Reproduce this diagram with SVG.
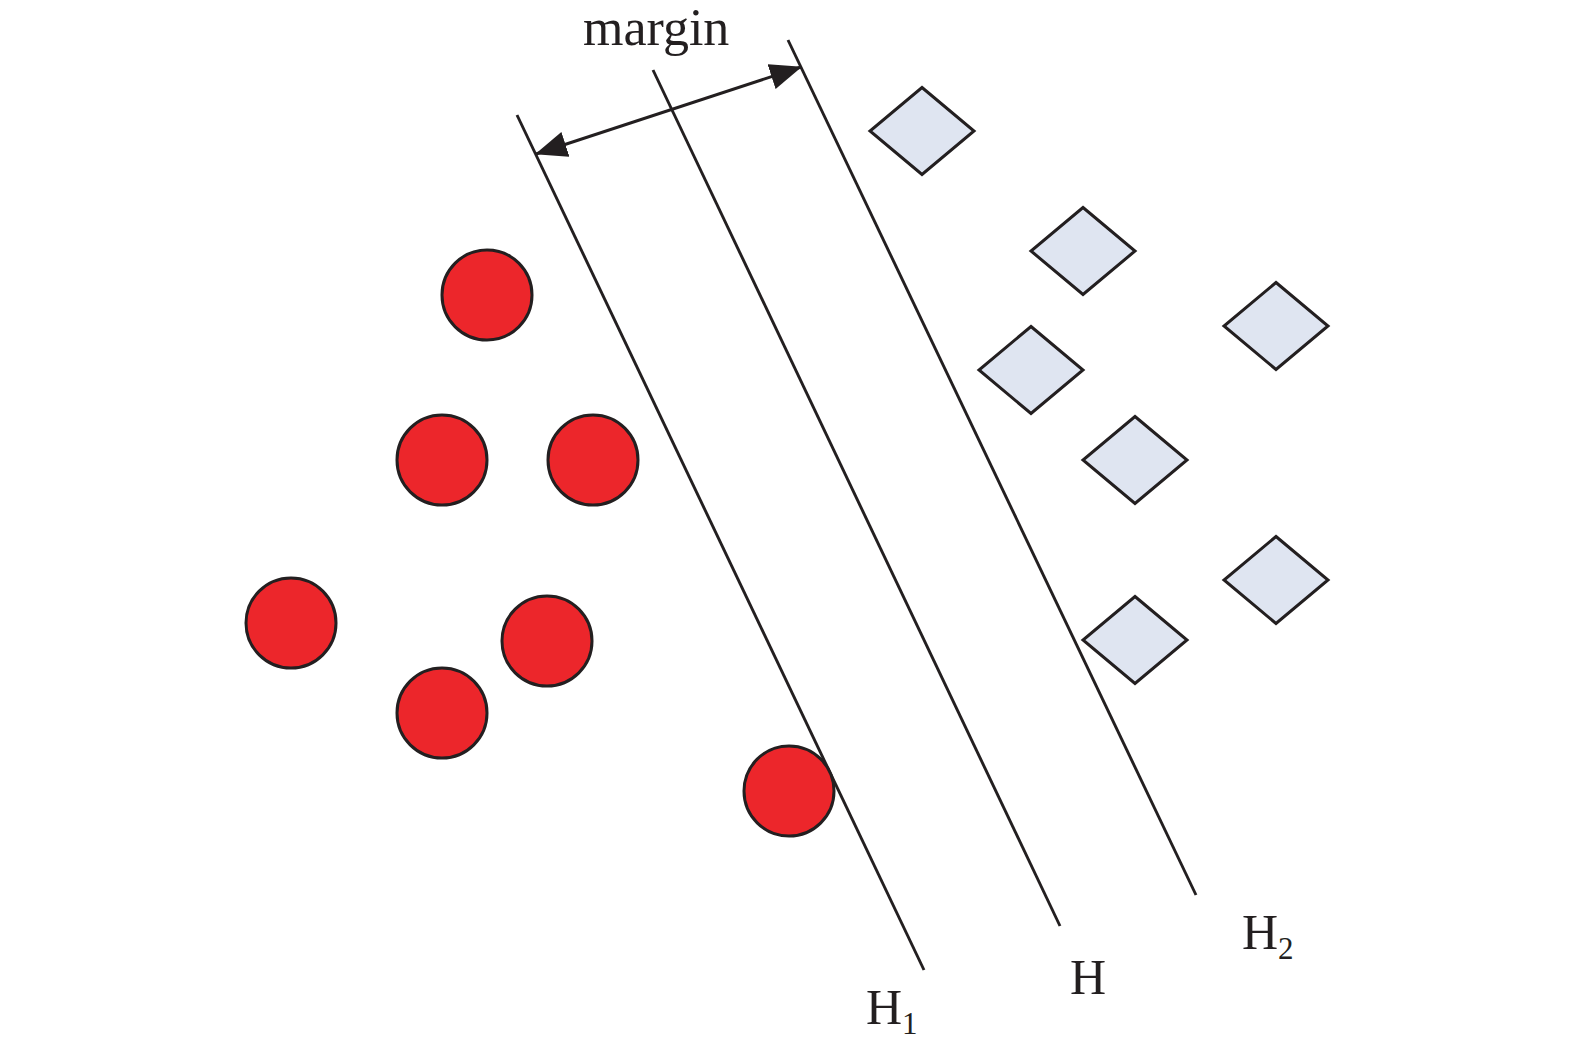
<svg xmlns="http://www.w3.org/2000/svg" width="1575" height="1053" viewBox="0 0 1575 1053">
<style>
.pt{fill:#ec262b;stroke:#231f20;stroke-width:3}
.dm{fill:#dfe5f1;stroke:#231f20;stroke-width:3;stroke-linejoin:miter}
.ln{stroke:#231f20;stroke-width:2.9;fill:none}
.tx{font-family:"Liberation Serif","Times New Roman",serif;fill:#231f20}
</style>
<defs>
<marker id="ah" viewBox="0 0 32 26" refX="31" refY="13" markerWidth="32" markerHeight="26" markerUnits="userSpaceOnUse" orient="auto-start-reverse">
<path d="M0,0 L32,13 L0,26 Z" fill="#231f20"/>
</marker>
<polygon id="dia" points="0,-43.5 52,0 0,43.5 -52,0"/>
</defs>
<rect width="1575" height="1053" fill="#fff"/>
<g id="connectors">
<line id="H1-line" class="ln" x1="517" y1="115" x2="924" y2="970"/>
<line id="H-line" class="ln" x1="653" y1="70" x2="1060" y2="926"/>
<line id="H2-line" class="ln" x1="788" y1="40" x2="1196" y2="895"/>
<line id="margin-arrow" class="ln" stroke-width="3.2" x1="536" y1="154" x2="801" y2="67" marker-start="url(#ah)" marker-end="url(#ah)"/>
</g>
<g id="circles">
<g id="c1"><circle class="pt" cx="487" cy="295" r="45"/></g>
<g id="c2"><circle class="pt" cx="442" cy="460" r="45"/></g>
<g id="c3"><circle class="pt" cx="593" cy="460" r="45"/></g>
<g id="c4"><circle class="pt" cx="291" cy="623" r="45"/></g>
<g id="c5"><circle class="pt" cx="547" cy="641" r="45"/></g>
<g id="c6"><circle class="pt" cx="442" cy="713" r="45"/></g>
<g id="c7"><circle class="pt" cx="789" cy="791" r="45"/></g>
</g>
<g id="diamonds">
<g id="d1"><use href="#dia" class="dm" x="922" y="131"/></g>
<g id="d2"><use href="#dia" class="dm" x="1083" y="251"/></g>
<g id="d3"><use href="#dia" class="dm" x="1031" y="370"/></g>
<g id="d4"><use href="#dia" class="dm" x="1276" y="326"/></g>
<g id="d5"><use href="#dia" class="dm" x="1135" y="460"/></g>
<g id="d6"><use href="#dia" class="dm" x="1276" y="580"/></g>
<g id="d7"><use href="#dia" class="dm" x="1135" y="640"/></g>
</g>
<g id="labels">
<text class="tx" x="583" y="45" font-size="52">margin</text>
<text class="tx" x="866" y="1024" font-size="50">H<tspan font-size="31" dy="10">1</tspan></text>
<text class="tx" x="1070" y="994" font-size="50">H</text>
<text class="tx" x="1242" y="949" font-size="50">H<tspan font-size="31" dy="10">2</tspan></text>
</g>
</svg>
